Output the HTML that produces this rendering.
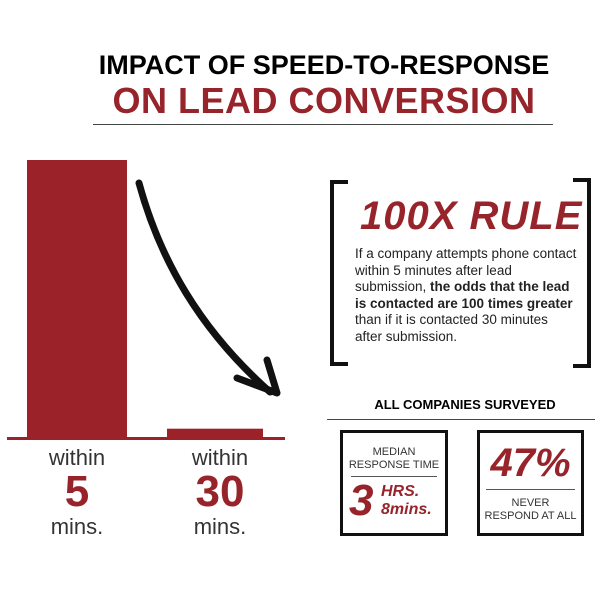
<!DOCTYPE html>
<html><head><meta charset="utf-8"><style>
body{margin:0;background:#fff;width:600px;height:598px;overflow:hidden;font-family:"Liberation Sans",sans-serif;position:relative}
.a{position:absolute}
.red{color:#96242a}
</style></head><body>
<div class="a" style="left:80px;top:50px;width:488px;text-align:center;font-weight:bold;font-size:27px;letter-spacing:0px">IMPACT OF SPEED-TO-RESPONSE</div>
<div class="a red" style="left:80px;top:80px;width:488px;text-align:center;font-weight:bold;font-size:36px;letter-spacing:0.5px">ON LEAD CONVERSION</div>
<div class="a" style="left:93px;top:124px;width:460px;height:1px;background:#444"></div>

<svg class="a" style="left:0;top:0" width="600" height="598">
<g id="bars"></g>
<path d="M139 183 C160 260,200 330,270 392" stroke="#111" stroke-width="7" fill="none" stroke-linecap="round"/>
<path d="M237 378 L277 393 L267 360" stroke="#111" stroke-width="7" fill="none" stroke-linecap="round" stroke-linejoin="round"/>
</svg>
<script>
const categories=["within 5 mins.","within 30 mins."];
const values=[100,3];
const y0=437, ymax=160, vmax=100;
const yScale=v=>y0-(y0-ymax)*v/vmax;
const xs=[27,167], bw=[100,96];
const g=document.getElementById('bars');
const ns='http://www.w3.org/2000/svg';
values.forEach((v,i)=>{
 const r=document.createElementNS(ns,'rect');
 
 
 r.setAttribute('x',xs[i]);r.setAttribute('width',bw[i]);
 r.setAttribute('y',yScale(v));r.setAttribute('height',y0-yScale(v));
 r.setAttribute('fill','#9a2228');g.appendChild(r);
});
const b=document.createElementNS(ns,'rect');


b.setAttribute('x',7);b.setAttribute('y',y0);b.setAttribute('width',278);b.setAttribute('height',3);b.setAttribute('fill','#9a2228');g.appendChild(b);
</script>

<div class="a" style="left:17px;top:446px;width:120px;text-align:center">
<div style="font-size:22px;line-height:24px;color:#333">within</div>
<div class="red" style="font-size:44px;font-weight:bold;line-height:44px">5</div>
<div style="font-size:22px;line-height:26px;color:#333">mins.</div></div>
<div class="a" style="left:160px;top:446px;width:120px;text-align:center">
<div style="font-size:22px;line-height:24px;color:#333">within</div>
<div class="red" style="font-size:44px;font-weight:bold;line-height:44px">30</div>
<div style="font-size:22px;line-height:26px;color:#333">mins.</div></div>

<div class="a" style="left:330px;top:180px;width:14px;height:178px;border:4px solid #111;border-right:none"></div>
<div class="a" style="left:573px;top:178px;width:14px;height:182px;border:4px solid #111;border-left:none"></div>
<div class="a red" style="left:360px;top:193px;font-size:40px;line-height:46px;white-space:nowrap;font-weight:bold;font-style:italic;letter-spacing:1px">100X RULE</div>
<div class="a" style="left:355px;top:246px;width:222px;font-size:13.5px;line-height:16.5px;color:#222">If a company attempts phone contact within 5 minutes after lead submission, <b>the odds that the lead is contacted are 100 times greater</b> than if it is contacted 30 minutes after submission.</div>

<div class="a" style="left:330px;top:397px;width:270px;text-align:center;font-weight:bold;font-size:13px">ALL COMPANIES SURVEYED</div>
<div class="a" style="left:327px;top:419px;width:268px;height:1px;background:#444"></div>

<div class="a" style="left:340px;top:430px;width:102px;height:100px;border:3px solid #111">
<div style="text-align:center;font-size:11px;line-height:13px;color:#333;margin-top:13px">MEDIAN<br>RESPONSE TIME</div>
<div style="margin:4px 8px 0;height:1px;background:#555"></div>
<div class="red" style="font-size:44px;font-style:italic;font-weight:bold;position:absolute;left:6px;top:44px;line-height:48px">3</div>
<div class="red" style="font-size:16px;font-style:italic;font-weight:bold;position:absolute;left:38px;top:50px;line-height:18px">HRS.<br>8mins.</div>
</div>
<div class="a" style="left:477px;top:430px;width:101px;height:100px;border:3px solid #111">
<div class="red" style="text-align:center;font-size:40px;font-style:italic;font-weight:bold;margin-top:8px;line-height:44px">47%</div>
<div style="margin:4px 6px 0;height:1px;background:#555"></div>
<div style="text-align:center;font-size:11px;line-height:13px;color:#333;margin-top:7px">NEVER<br>RESPOND AT ALL</div>
</div>
</body></html>
